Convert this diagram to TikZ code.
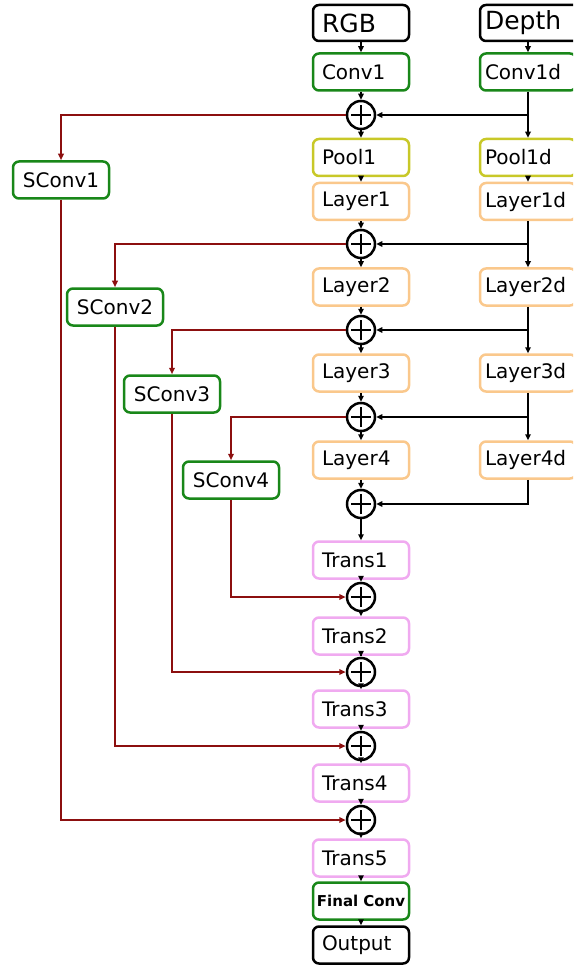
\documentclass[tikz,border=0pt]{standalone}
\usepackage{fontspec}
\setmainfont{DejaVu Sans}
\usetikzlibrary{arrows.meta,calc}

\definecolor{convgreen}{RGB}{25,135,25}
\definecolor{poolyellow}{RGB}{200,200,40}
\definecolor{layerorange}{RGB}{250,200,140}
\definecolor{transpink}{RGB}{240,170,240}
\definecolor{skipred}{RGB}{140,15,15}

\tikzset{
  box/.style={draw, rounded corners=6pt, line width=2.5pt, minimum height=37pt,
    inner ysep=0pt, align=left, font=\fontsize{20}{24}\selectfont},
  lcol/.style={box, text width=78pt, inner xsep=9pt},
  rcol/.style={box, text width=86pt, inner xsep=5pt},
  scol/.style={box, text width=78pt, inner xsep=9pt, align=center, draw=convgreen},
  inbox/.style={draw=black, minimum height=36pt, font=\fontsize{25}{29}\selectfont},
  convbox/.style={draw=convgreen},
  poolbox/.style={draw=poolyellow},
  layerbox/.style={draw=layerorange},
  transbox/.style={draw=transpink},
  sumnode/.style={circle, draw, line width=2.5pt, minimum size=28pt, inner sep=0pt,
    path picture={
      \draw[line width=1.5pt]
        ([xshift=-10pt]path picture bounding box.center) -- ([xshift=10pt]path picture bounding box.center)
        ([yshift=-10pt]path picture bounding box.center) -- ([yshift=10pt]path picture bounding box.center);
    }},
  arr/.style={line width=1.8pt, -{Triangle[length=6pt,width=5.5pt]}},
  skip/.style={arr, draw=skipred, -{Triangle[length=6.5pt,width=5.5pt,fill=skipred]}},
}

\begin{document}
\begin{tikzpicture}[x=1pt,y=-1pt]
\useasboundingbox (0,0) rectangle (573,965);
\clip (0,0) rectangle (573,965);

% RGB stream
\node[lcol, inbox]            (rgb)  at (361,23)    {RGB};
\node[lcol, convbox]          (c1)   at (361,72)    {Conv1};
\node[sumnode]                (s1)   at (361,115)   {};
\node[lcol, poolbox]          (p1)   at (361,157.5) {Pool1};
\node[lcol, layerbox]         (l1)   at (361,201.5) {Layer1};
\node[sumnode]                (s2)   at (361,244)   {};
\node[lcol, layerbox]         (l2)   at (361,287)   {Layer2};
\node[sumnode]                (s3)   at (361,330)   {};
\node[lcol, layerbox]         (l3)   at (361,373)   {Layer3};
\node[sumnode]                (s4)   at (361,417)   {};
\node[lcol, layerbox]         (l4)   at (361,460)   {Layer4};
\node[sumnode]                (s5)   at (361,504)   {};
\node[lcol, transbox]         (t1)   at (361,560)   {Trans1};
\node[sumnode]                (s6)   at (361,597)   {};
\node[lcol, transbox]         (t2)   at (361,636)   {Trans2};
\node[sumnode]                (s7)   at (361,672)   {};
\node[lcol, transbox]         (t3)   at (361,709)   {Trans3};
\node[sumnode]                (s8)   at (361,746)   {};
\node[lcol, transbox]         (t4)   at (361,783)   {Trans4};
\node[sumnode]                (s9)   at (361,820)   {};
\node[lcol, transbox]         (t5)   at (361,858)   {Trans5};
\node[box, convbox, text width=92pt, inner xsep=2pt, align=center,
      font=\bfseries\fontsize{15}{18}\selectfont] (fc) at (361,901) {Final Conv};
\node[lcol, draw=black]       (out)  at (361,945)   {Output};

% Depth stream
\node[rcol, inbox, text width=96pt] (dep) at (533,23) {Depth};
\node[rcol, convbox]          (c1d)  at (528,72)    {Conv1d};
\node[rcol, poolbox]          (p1d)  at (528,157.5) {Pool1d};
\node[rcol, layerbox]         (l1d)  at (528,201.5) {Layer1d};
\node[rcol, layerbox]         (l2d)  at (528,287)   {Layer2d};
\node[rcol, layerbox]         (l3d)  at (528,373)   {Layer3d};
\node[rcol, layerbox]         (l4d)  at (528,460)   {Layer4d};

% side convolutions
\node[scol] (sc1) at (61,180)  {SConv1};
\node[scol] (sc2) at (115,307) {SConv2};
\node[scol] (sc3) at (172,394) {SConv3};
\node[scol] (sc4) at (231,480) {SConv4};

% main RGB chain
\draw[arr] (rgb.south) -- (c1.north);
\draw[arr] (c1.south) -- (s1.north);
\draw[arr] (s1.south) -- (p1.north);
\draw[arr] (p1.south) -- (l1.north);
\draw[arr] (l1.south) -- (s2.north);
\draw[arr] (s2.south) -- (l2.north);
\draw[arr] (l2.south) -- (s3.north);
\draw[arr] (s3.south) -- (l3.north);
\draw[arr] (l3.south) -- (s4.north);
\draw[arr] (s4.south) -- (l4.north);
\draw[arr] (l4.south) -- (s5.north);
\draw[arr] (s5.south) -- (t1.north);
\draw[arr] (t1.south) -- (s6.north);
\draw[arr] (s6.south) -- (t2.north);
\draw[arr] (t2.south) -- (s7.north);
\draw[arr] (s7.south) -- (t3.north);
\draw[arr] (t3.south) -- (s8.north);
\draw[arr] (s8.south) -- (t4.north);
\draw[arr] (t4.south) -- (s9.north);
\draw[arr] (s9.south) -- (t5.north);
\draw[arr] (t5.south) -- (fc.north);
\draw[arr] (fc.south) -- (out.north);

% depth chain
\draw[arr] (dep.south -| c1d.north) -- (c1d.north);
\draw[arr] (c1d.south) -- (p1d.north);
\draw[arr] (p1d.south) -- (l1d.north);
\draw[arr] (l1d.south) -- (l2d.north);
\draw[arr] (l2d.south) -- (l3d.north);
\draw[arr] (l3d.south) -- (l4d.north);

% depth features fused into the RGB stream
\draw[arr] (s1 -| c1d.south) -- (s1.east);
\draw[arr] (s2 -| l1d.south) -- (s2.east);
\draw[arr] (s3 -| l2d.south) -- (s3.east);
\draw[arr] (s4 -| l3d.south) -- (s4.east);
\draw[arr] (l4d.south) |- (s5.east);

% skip connections through the side convolutions
\draw[skip] (s1.west) -| (sc1.north);
\draw[skip] (s2.west) -| (sc2.north);
\draw[skip] (s3.west) -| (sc3.north);
\draw[skip] (s4.west) -| (sc4.north);
\draw[skip] (sc4.south) |- (s6.west);
\draw[skip] (sc3.south) |- (s7.west);
\draw[skip] (sc2.south) |- (s8.west);
\draw[skip] (sc1.south) |- (s9.west);
\end{tikzpicture}
\end{document}
